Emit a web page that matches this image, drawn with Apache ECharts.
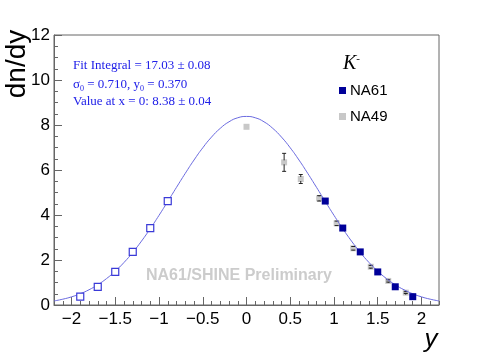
<!DOCTYPE html>
<html>
<head>
<meta charset="utf-8">
<script src="https://cdn.jsdelivr.net/npm/echarts@6/dist/echarts.min.js"></script>
<style>
html,body{margin:0;padding:0;background:#fff;}
#c{width:488px;height:352px;}
</style>
</head>
<body>
<div id="c"></div>
<script>
// ---- data ----
var na61X = [0.9, 1.1, 1.3, 1.5, 1.7, 1.9];
var na61Y = [4.62, 3.42, 2.36, 1.47, 0.81, 0.37];
var na61ReflX = [-0.9, -1.1, -1.3, -1.5, -1.7, -1.9];
var na61ReflY = [4.62, 3.42, 2.36, 1.47, 0.81, 0.37];
var na49X = [0.0, 0.43, 0.62, 0.83, 1.03, 1.22, 1.42, 1.62, 1.82];
var na49Y = [7.92, 6.34, 5.60, 4.74, 3.63, 2.52, 1.70, 1.07, 0.55];
var na49Err = [0, 0.40, 0.20, 0.12, 0.10, 0.08, 0.06, 0.05, 0.04];
var fitX = [-2.2,-2.1,-2.0,-1.9,-1.8,-1.7,-1.6,-1.5,-1.4,-1.3,-1.2,-1.1,-1.0,-0.9,-0.8,-0.7,-0.6,-0.5,-0.4,-0.3,-0.2,-0.1,0,
            0.1,0.2,0.3,0.4,0.5,0.6,0.7,0.8,0.9,1.0,1.1,1.2,1.3,1.4,1.5,1.6,1.7,1.8,1.9,2.0,2.1,2.2];
var fitY = [0.180,0.258,0.362,0.500,0.677,0.899,1.173,1.502,1.890,2.337,2.840,3.392,3.984,4.602,5.230,5.850,6.443,6.986,7.462,7.852,8.142,8.321,8.380,
            8.321,8.142,7.852,7.462,6.986,6.443,5.850,5.230,4.602,3.984,3.392,2.840,2.337,1.890,1.502,1.173,0.899,0.677,0.500,0.362,0.258,0.180];
var yTicks = [0, 2, 4, 6, 8, 10, 12];
var infoLines = ['Fit Integral = 17.03 \u00b1 0.08', '\u03c3{sub|0} = 0.710, y{sub|0} = 0.370', 'Value at x = 0: 8.38 \u00b1 0.04'];

function zip(a, b) { return a.map(function (v, i) { return [v, b[i]]; }); }

var frame = '#666';
var chart = echarts.init(document.getElementById('c'), null, {renderer: 'canvas'});
var option = {
  animation: false,
  backgroundColor: '#fff',
  grid: {left: 54, top: 35, width: 385, height: 270, show: true, borderColor: frame, borderWidth: 1, backgroundColor: 'transparent'},
  legend: {
    orient: 'vertical', left: 334, top: 78, itemWidth: 7, itemHeight: 7, itemGap: 11,
    data: ['NA61', 'NA49'],
    textStyle: {fontFamily: 'Liberation Sans', fontSize: 15, color: '#000', padding: [0,0,0,-1]}
  },
  xAxis: [{
    type: 'value', min: -2.2, max: 2.2, splitNumber: 9,
    axisLine: {show: true, onZero: false, lineStyle: {color: frame}},
    axisTick: {show: true, inside: true, length: 8, lineStyle: {color: frame}},
    splitLine: {show: false},
    axisLabel: {
      show: true, margin: 6, color: '#000', fontFamily: 'Liberation Sans', fontSize: 17,
      showMinLabel: false, showMaxLabel: false,
      formatter: function (v) { return String(v).replace('-', '\u2212'); }
    }
  }, {
    type: 'value', min: -2.2, max: 2.2, interval: 0.1, position: 'bottom',
    axisLine: {show: false, onZero: false},
    axisTick: {show: true, inside: true, length: 4, lineStyle: {color: frame}},
    splitLine: {show: false},
    axisLabel: {show: false}
  }],
  yAxis: {
    type: 'value', min: yTicks[0], max: yTicks[yTicks.length - 1], interval: 2,
    axisLine: {show: true, onZero: false, lineStyle: {color: frame}},
    axisTick: {show: true, inside: true, length: 8, lineStyle: {color: frame}},
    minorTick: {show: true, splitNumber: 4, length: 4, lineStyle: {color: frame}},
    splitLine: {show: false},
    axisLabel: {margin: 4, color: '#000', fontFamily: 'Liberation Sans', fontSize: 17}
  },
  series: [
    {
      name: 'NA49', type: 'scatter', symbol: 'rect', symbolSize: 6, z: 2,
      itemStyle: {color: '#c8c8c8', opacity: 1},
      data: zip(na49X, na49Y)
    },
    {
      name: 'NA49 err', type: 'custom', z: 3,
      renderItem: function (params, api) {
        var x = api.value(0), y = api.value(1), e = api.value(2);
        if (!e) return null;
        var top = api.coord([x, y + e]), bot = api.coord([x, y - e]);
        var c = api.coord([x, y]);
        var w = 2;
        var st = {stroke: '#222', lineWidth: 1};
        return {type: 'group', children: [
          {type: 'line', shape: {x1: top[0], y1: top[1], x2: top[0], y2: c[1] - 2}, style: st},
          {type: 'line', shape: {x1: bot[0], y1: c[1] + 2, x2: bot[0], y2: bot[1]}, style: st},
          {type: 'line', shape: {x1: top[0] - w, y1: top[1], x2: top[0] + w, y2: top[1]}, style: st},
          {type: 'line', shape: {x1: bot[0] - w, y1: bot[1], x2: bot[0] + w, y2: bot[1]}, style: st}
        ]};
      },
      data: na49X.map(function (v, i) { return [v, na49Y[i], na49Err[i]]; })
    },
    {
      name: 'fit', type: 'line', smooth: true, symbol: 'none', z: 4,
      lineStyle: {color: '#6a6ae0', width: 1},
      data: zip(fitX, fitY)
    },
    {
      name: 'NA61 reflected', type: 'scatter', symbol: 'rect', symbolSize: 7, z: 5,
      itemStyle: {color: '#fff', borderColor: '#3a3ad8', borderWidth: 1.2, opacity: 1},
      data: zip(na61ReflX, na61ReflY)
    },
    {
      name: 'NA61', type: 'scatter', symbol: 'rect', symbolSize: 7, z: 6,
      itemStyle: {color: '#000099', opacity: 1},
      data: zip(na61X, na61Y)
    }
  ],
  graphic: [
    {type: 'text', left: 146, top: 268, z: 1, silent: true,
     style: {text: 'NA61/SHINE Preliminary', fill: '#cccccc', font: 'bold 16px "Liberation Sans"'}},
    {type: 'text', x: 17, y: 64, rotation: Math.PI / 2,
     style: {text: 'dn/dy', fill: '#000', font: '28px "Liberation Sans"', align: 'center', verticalAlign: 'middle'}},
    {type: 'text', x: 431, y: 340,
     style: {text: 'y', fill: '#000', font: 'italic 26px "Liberation Sans"', align: 'center', verticalAlign: 'middle'}},
    {type: 'text', x: 343, y: 64,
     style: {text: 'K{sup|-}', fill: '#000', font: 'italic 20px "Liberation Serif"', verticalAlign: 'middle',
       rich: {sup: {fontSize: 11, fontStyle: 'italic', fontFamily: 'Liberation Serif', padding: [0, 0, 10, 0]}}}},
    {type: 'text', x: 73, y: 59,
     style: {text: infoLines[0], fill: '#2020e8', font: '13px "Liberation Serif"'}},
    {type: 'text', x: 73, y: 77,
     style: {text: infoLines[1], fill: '#2020e8', font: '13px "Liberation Serif"',
       rich: {sub: {fontSize: 8, fontFamily: 'Liberation Serif', fill: '#2020e8', padding: [8, 0, 0, 0]}}}},
    {type: 'text', x: 73, y: 95,
     style: {text: infoLines[2], fill: '#2020e8', font: '13px "Liberation Serif"'}}
  ]
};
chart.setOption(option);
</script>
</body>
</html>
